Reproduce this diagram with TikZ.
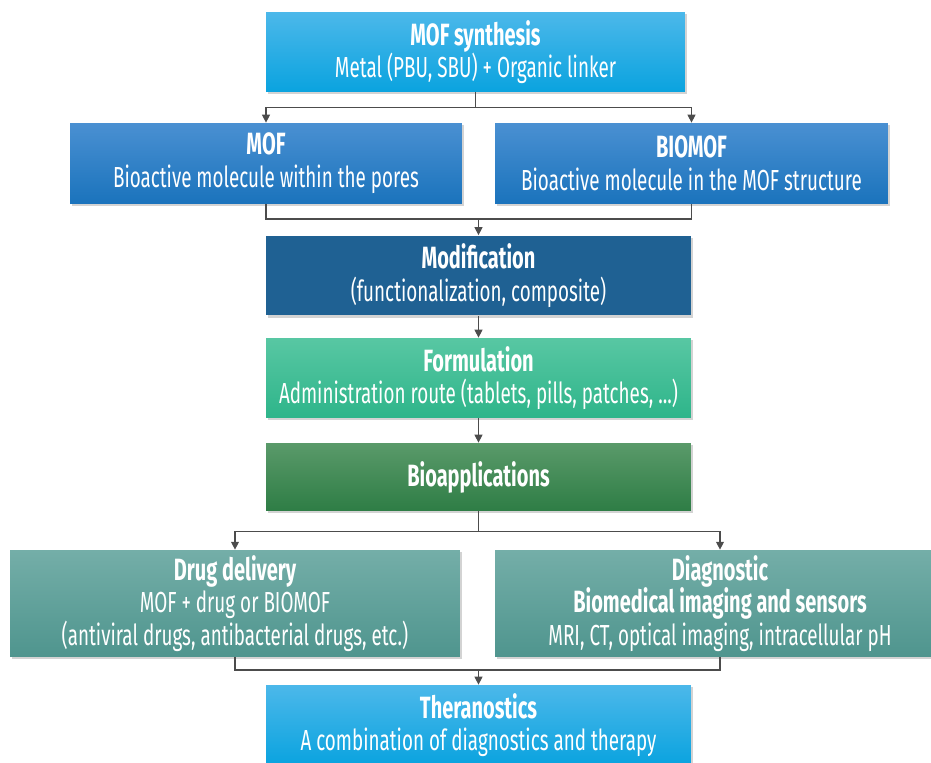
\documentclass[tikz,border=0pt]{standalone}
\usepackage{fontspec}
\setmainfont[FakeStretch=0.65]{Fira Sans}
\usetikzlibrary{arrows.meta, shadows}

\definecolor{skyTop}{HTML}{4CB8EA}
\definecolor{skyBot}{HTML}{0AA3DF}
\definecolor{blueTop}{HTML}{4A90D2}
\definecolor{blueBot}{HTML}{1A73BC}
\definecolor{navyFill}{HTML}{1F6193}
\definecolor{mintTop}{HTML}{58C7A3}
\definecolor{mintBot}{HTML}{2EB58A}
\definecolor{leafTop}{HTML}{5A9A6A}
\definecolor{leafBot}{HTML}{2E7D45}
\definecolor{tealTop}{HTML}{74AEA8}
\definecolor{tealBot}{HTML}{4F958E}

\newcommand{\boxhead}[1]{{\fontsize{17.5}{18.6}\selectfont\bfseries #1}}

\begin{document}
\begin{tikzpicture}[x=0.02cm, y=-0.02cm,
    box/.style={rectangle, inner sep=0pt, text=white, align=center,
        font=\fontsize{16.5}{18.6}\selectfont,
        drop shadow={shadow xshift=1pt, shadow yshift=-1.2pt, opacity=0.35}},
    wide/.style={minimum width=8.5cm, minimum height=1.6cm},
    link/.style={draw=black!70, line width=0.6pt},
    tip/.style={link, -{Triangle[length=4.5pt, width=4.5pt]}}
]

    \useasboundingbox (0,0) rectangle (931,763);

    % === Top: synthesis ===
    \node[box, wide, minimum width=8.38cm, top color=skyTop, bottom color=skyBot] (synth) at (475.5,52)
        {\boxhead{MOF synthesis}\\ Metal (PBU, SBU) + Organic linker};

    % === MOF / BIOMOF ===
    \node[box, minimum width=7.84cm, minimum height=1.62cm, top color=blueTop, bottom color=blueBot] (mof) at (266,163.5)
        {\boxhead{MOF}\\ Bioactive molecule within the pores};
    \node[box, minimum width=7.86cm, minimum height=1.62cm, top color=blueTop, bottom color=blueBot] (biomof) at (691.5,163.5)
        {\boxhead{BIOMOF}\\ Bioactive molecule in the MOF structure};

    % === Middle column ===
    \node[box, wide, fill=navyFill] (modif) at (478.5,275.5)
        {\boxhead{Modification}\\ (functionalization, composite)};
    \node[box, wide, top color=mintTop, bottom color=mintBot] (formul) at (478.5,378)
        {\boxhead{Formulation}\\ Administration route (tablets, pills, patches, ...)};
    \node[box, wide, minimum height=1.36cm, top color=leafTop, bottom color=leafBot] (bioapp) at (478.5,477)
        {\boxhead{Bioapplications}};

    % === Applications ===
    \node[box, minimum width=9cm, minimum height=2.14cm, top color=tealTop, bottom color=tealBot] (drug) at (235,603.5)
        {\boxhead{Drug delivery}\\ MOF + drug or BIOMOF\\ (antiviral drugs, antibacterial drugs, etc.)};
    \node[box, minimum width=9cm, minimum height=2.14cm, top color=tealTop, bottom color=tealBot] (diag) at (720,603.5)
        {\boxhead{Diagnostic}\\ \boxhead{Biomedical imaging and sensors}\\ MRI, CT, optical imaging, intracellular pH};

    % === Bottom ===
    \node[box, wide, top color=skyTop, bottom color=skyBot] (thera) at (478.5,725)
        {\boxhead{Theranostics}\\ A combination of diagnostics and therapy};

    % Junctions
    \coordinate (join1) at (478.5,219);
    \coordinate (join2) at (478.5,670);

    % === Connectors ===
    \draw[tip] (synth.south) -- ++(0,15) -| (mof.north);
    \draw[tip] (synth.south) -- ++(0,15) -| (biomof.north);

    \draw[link] (mof.south) |- (join1) -| (biomof.south);
    \draw[tip] (join1) -- (modif.north);

    \draw[tip] (modif.south) -- (formul.north);
    \draw[tip] (formul.south) -- (bioapp.north);

    \draw[tip] (bioapp.south) -- ++(0,20) -| (drug.north);
    \draw[tip] (bioapp.south) -- ++(0,20) -| (diag.north);

    \draw[link] (drug.south) |- (join2) -| (diag.south);
    \draw[tip] (join2) -- (thera.north);

\end{tikzpicture}
\end{document}
